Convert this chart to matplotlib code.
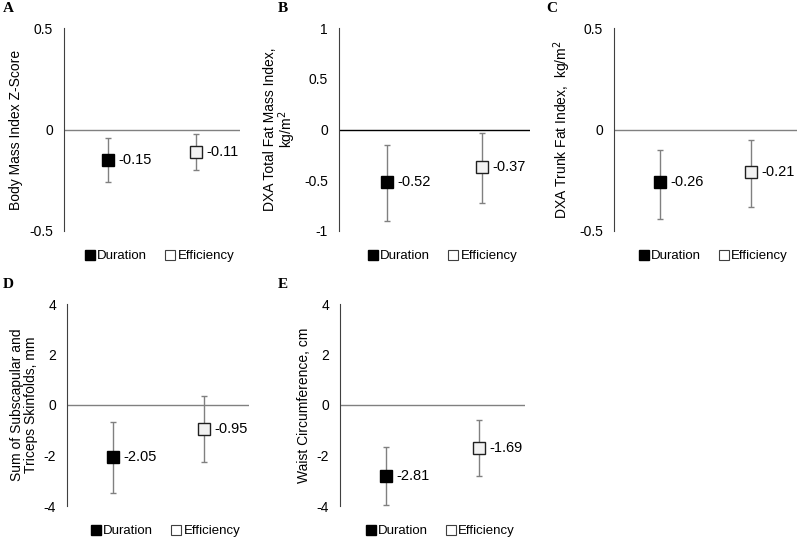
import numpy as np
import matplotlib
matplotlib.use("Agg")
import matplotlib.pyplot as plt
from matplotlib.lines import Line2D

plt.rcParams['font.family'] = ['Liberation Sans', 'DejaVu Sans']

letters = ["A", "B", "C", "D", "E"]
ylabels = [
    "Body Mass Index Z-Score",
    "DXA Total Fat Mass Index,\nkg/m$^2$",
    "DXA Trunk Fat Index,  kg/m$^2$",
    "Sum of Subscapular and\nTriceps Skinfolds, mm",
    "Waist Circumference, cm",
]
groups = ["Duration", "Efficiency"]
dur_mean = [-0.15, -0.52, -0.26, -2.05, -2.81]
eff_mean = [-0.11, -0.37, -0.21, -0.95, -1.69]
dur_lo = [-0.26, -0.90, -0.44, -3.50, -3.97]
dur_hi = [-0.04, -0.15, -0.10, -0.68, -1.68]
eff_lo = [-0.20, -0.72, -0.38, -2.26, -2.82]
eff_hi = [-0.02, -0.03, -0.05, 0.34, -0.60]
ylims = [(-0.5, 0.5), (-1, 1), (-0.5, 0.5), (-4, 4), (-4, 4)]
ysteps = [0.5, 0.5, 0.5, 2, 2]

# axes boxes in pixels: left, right, top, bottom
boxes = [(64, 240, 28, 231), (339, 530, 28, 231), (614, 797, 28, 231),
         (67, 249, 304, 506), (340, 525, 304, 506)]
letter_pos = [(3, 9), (278, 9), (546, 9), (3, 284), (278, 284)]

W, H = 800, 540
fig = plt.figure(figsize=(8, 5.4), dpi=100)

grey = "#808080"
for i in range(5):
    l, r, t, b = boxes[i]
    ax = fig.add_axes([l / W, 1 - b / H, (r - l) / W, (b - t) / H])
    means = [dur_mean[i], eff_mean[i]]
    lo = [dur_lo[i], eff_lo[i]]
    hi = [dur_hi[i], eff_hi[i]]
    x = np.arange(2)
    yerr = [np.array(means) - np.array(lo), np.array(hi) - np.array(means)]
    ax.errorbar(x, means, yerr=yerr, fmt="none", ecolor=grey, elinewidth=1,
                capsize=2.5, capthick=1, zorder=2)
    ax.plot(x[0], means[0], marker="s", ms=8, mfc="black", mec="black",
            ls="none", zorder=3)
    ax.plot(x[1], means[1], marker="s", ms=8, mfc="#f2f2f2", mec="#202020",
            mew=1, ls="none", zorder=3)
    for xi, m in zip(x, means):
        ax.annotate(f"{m:.2f}", (xi, m), xytext=(7.5, 0), textcoords="offset points",
                    va="center", ha="left", fontsize=10.5)
    zcol = "black" if i == 1 else grey
    ax.axhline(0, color=zcol, lw=1, zorder=1)
    ax.set_xlim(-0.5, 1.5)
    lo_l, hi_l = ylims[i]
    ax.set_ylim(lo_l, hi_l)
    ticks = np.arange(lo_l, hi_l + ysteps[i] / 2, ysteps[i])
    ax.set_yticks(ticks)
    ax.set_yticklabels([f"{v:g}" for v in ticks])
    ax.tick_params(axis="y", length=0, labelsize=10, pad=8)
    ax.set_xticks([])
    for s in ["top", "right", "bottom"]:
        ax.spines[s].set_visible(False)
    ax.spines["left"].set_color("#404040")
    ax.set_ylabel(ylabels[i], fontsize=10, labelpad=4, linespacing=1.0)
    handles = [
        Line2D([], [], marker="s", ms=6.5, mfc="black", mec="black", ls="none"),
        Line2D([], [], marker="s", ms=6.5, mfc="white", mec="#404040", mew=0.8, ls="none"),
    ]
    ax.legend(handles, groups, loc="center", bbox_to_anchor=(0.54, -0.125), ncol=2,
              frameon=False, fontsize=9.5, handletextpad=0.1, columnspacing=1.3,
              handlelength=0.9)
    lx, ly = letter_pos[i]
    fig.text(lx / W, 1 - ly / H, letters[i], fontsize=11, fontweight="bold",
             family="Liberation Serif", va="center", ha="left")

fig.savefig("out.png", dpi=100)
